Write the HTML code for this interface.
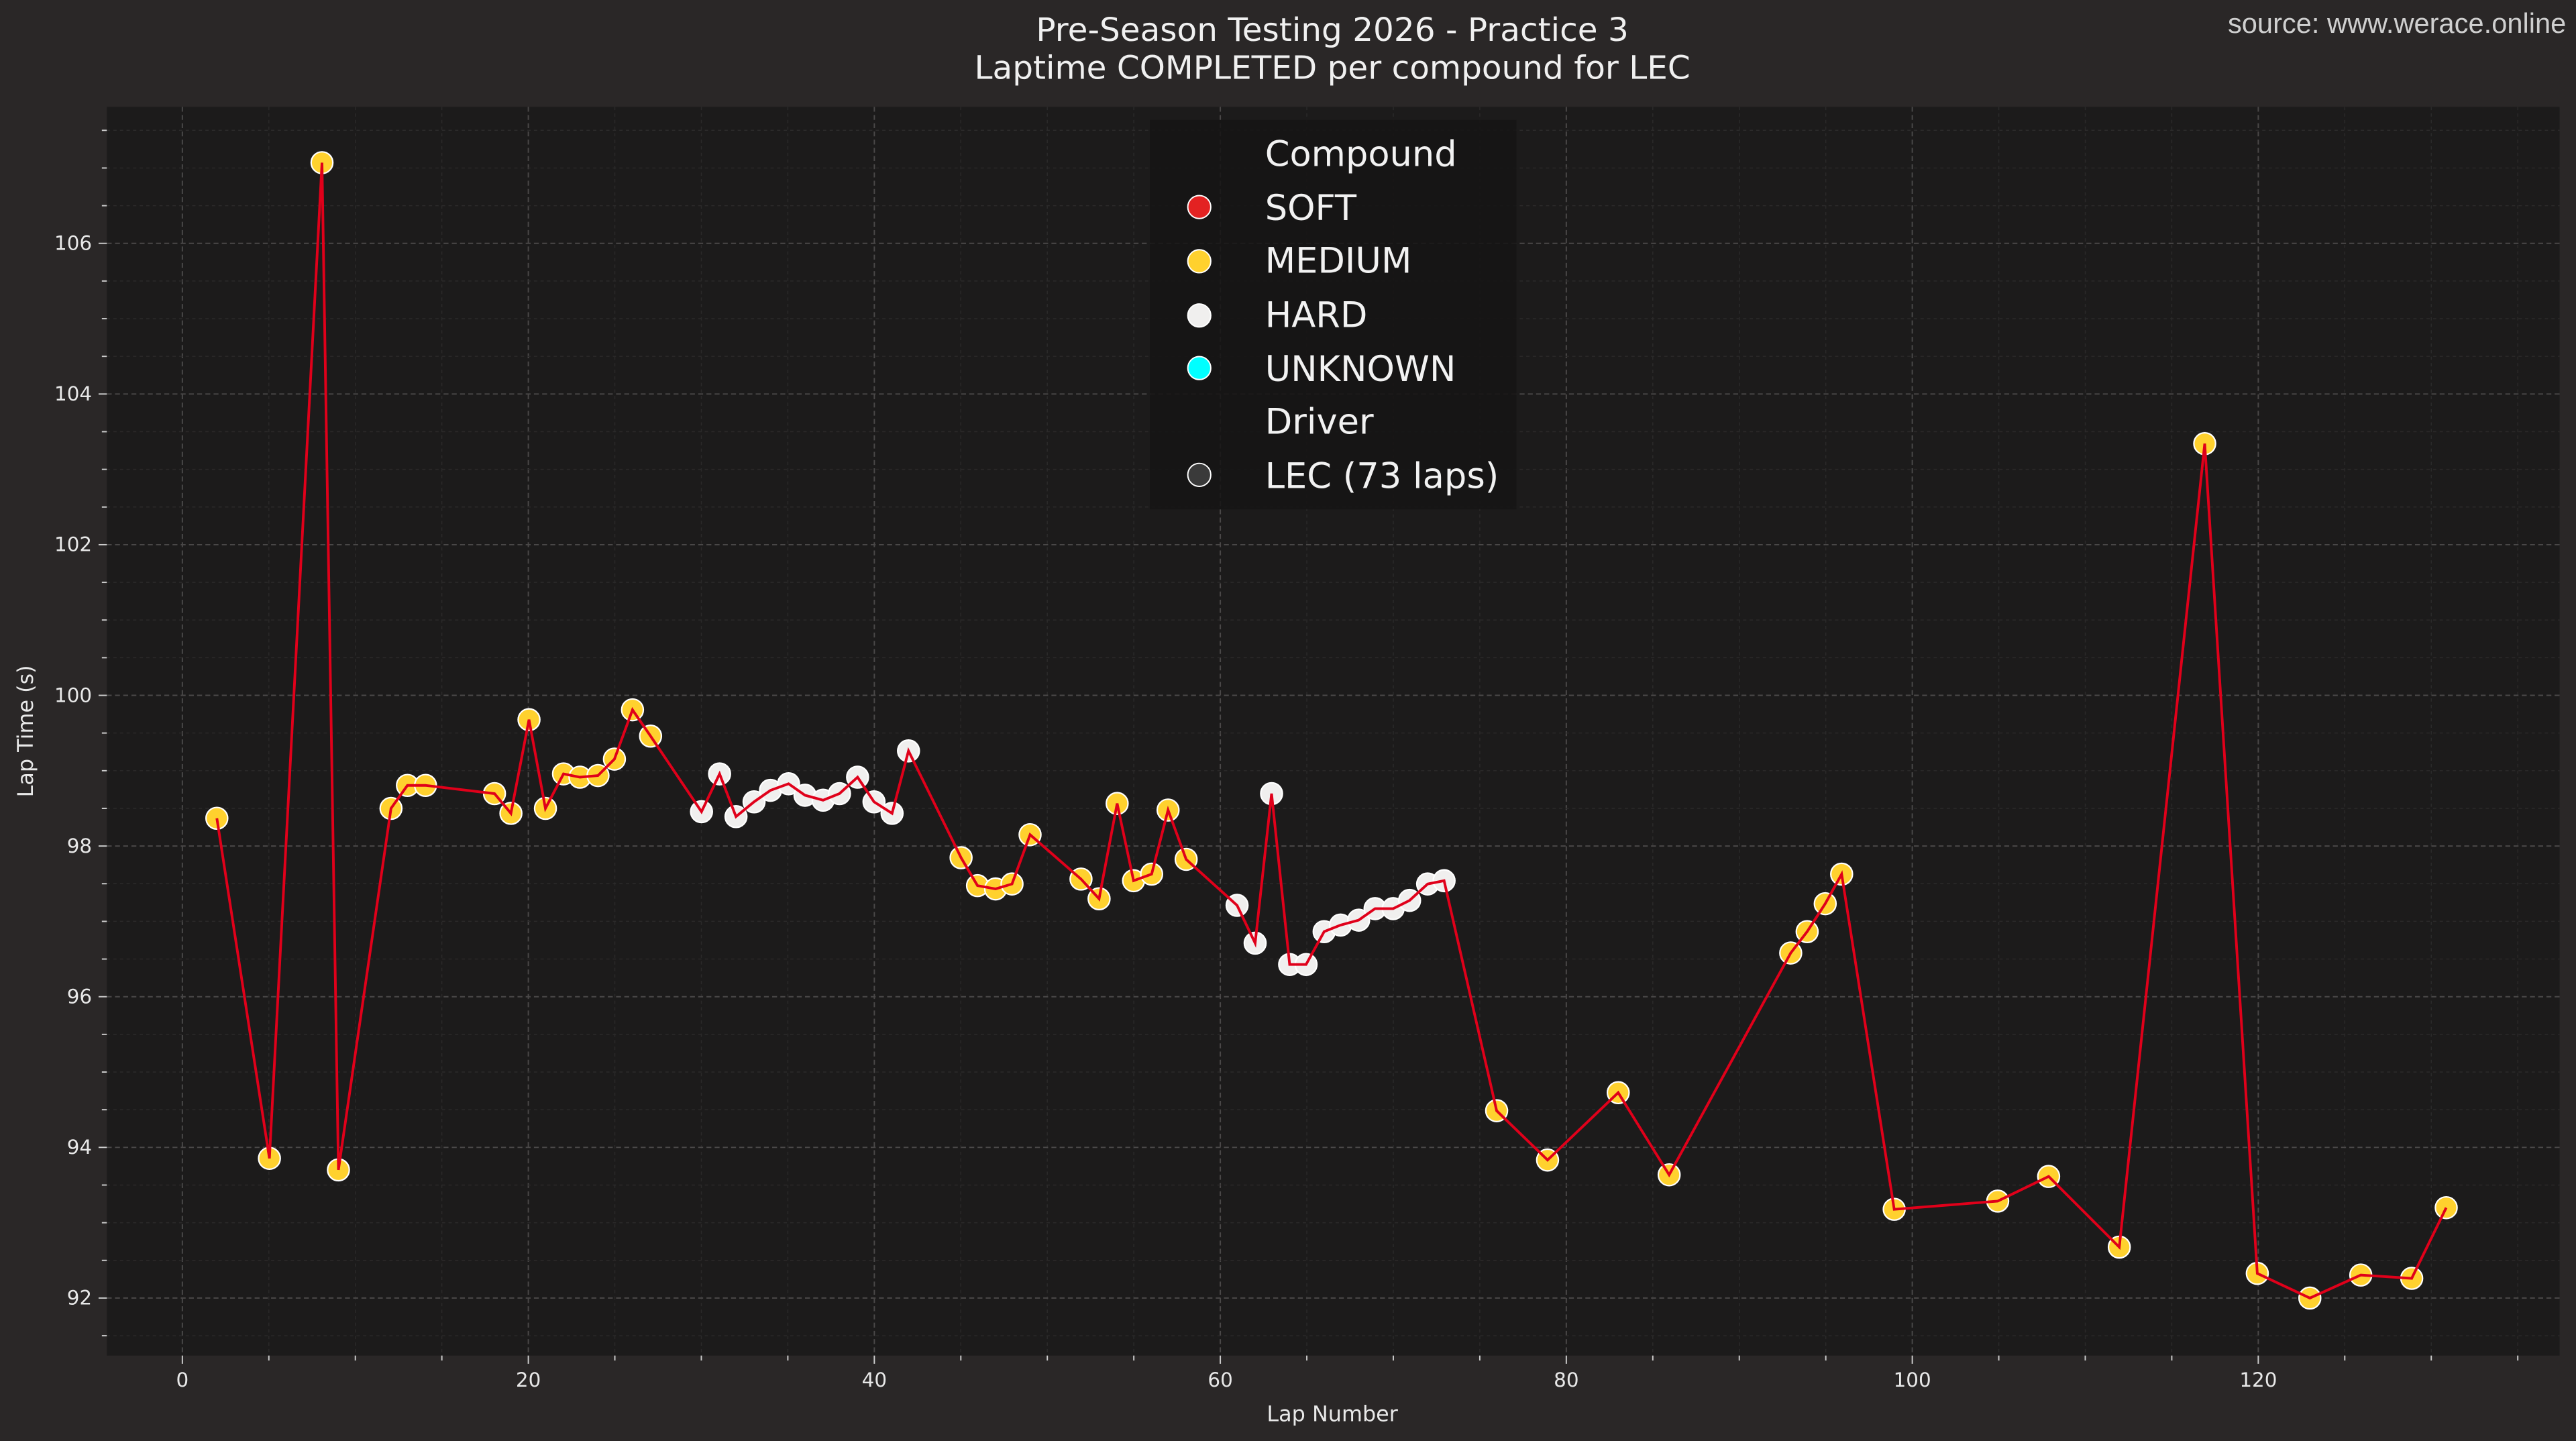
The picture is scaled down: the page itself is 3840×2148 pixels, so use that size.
<!DOCTYPE html>
<html><head><meta charset="utf-8"><style>
html,body{margin:0;padding:0;background:#2a2727;}
svg{display:block;}
text{font-family:"DejaVu Sans","Liberation Sans",sans-serif;}
</style></head><body>
<svg id="s" width="3840" height="2148" viewBox="0 0 1568 877" preserveAspectRatio="none" xmlns="http://www.w3.org/2000/svg">
<rect x="0" y="0" width="1568" height="877" fill="#2a2727"/>
<rect x="65" y="65" width="1493" height="760" fill="#1c1b1b"/>
<g id="grid"></g>
<g id="pts"></g>
<polyline id="line2" fill="none" stroke="#e0001a" stroke-width="1.6"/>
<g id="ticks" fill="#e8e8e8" font-size="12"></g>
<text x="811" y="25" text-anchor="middle" fill="#f0f0f0" font-size="19.8">Pre-Season Testing 2026 - Practice 3</text>
<text x="811" y="48" text-anchor="middle" fill="#f0f0f0" font-size="19.8">Laptime COMPLETED per compound for LEC</text>
<text x="1562" y="20" text-anchor="end" fill="#cfcfcf" font-size="17" style="font-family:'Liberation Sans',sans-serif">source: www.werace.online</text>
<text x="811" y="865" text-anchor="middle" fill="#e8e8e8" font-size="13">Lap Number</text>
<text transform="translate(20,445) rotate(-90)" text-anchor="middle" fill="#e8e8e8" font-size="13">Lap Time (s)</text>
<g>
<rect x="700" y="73" width="223" height="237" fill="#151414" fill-opacity="0.85"/>
<g font-size="21.5" fill="#f2f2f2">
<text x="770" y="101">Compound</text>
<text x="770" y="134">SOFT</text>
<text x="770" y="166">MEDIUM</text>
<text x="770" y="199">HARD</text>
<text x="770" y="232">UNKNOWN</text>
<text x="770" y="264">Driver</text>
<text x="770" y="297">LEC (73 laps)</text>
</g>
<circle cx="730" cy="126" r="7" fill="#e32222" stroke="#fff" stroke-width="0.8"/>
<circle cx="730" cy="159" r="7" fill="#ffd12e" stroke="#fff" stroke-width="0.8"/>
<circle cx="730" cy="192" r="7" fill="#f0efee" stroke="#fff" stroke-width="0.8"/>
<circle cx="730" cy="224" r="7" fill="#00ffff" stroke="#fff" stroke-width="0.8"/>
<circle cx="730" cy="289" r="7" fill="#3a3a3a" stroke="#fff" stroke-width="0.8"/>
</g>
</svg>
<script>
var NS="http://www.w3.org/2000/svg";
function el(t,a,p){var e=document.createElementNS(NS,t);for(var k in a)e.setAttribute(k,a[k]);p.appendChild(e);return e;}
var g=document.getElementById('grid'),tk=document.getElementById('ticks');
function X(l){return 111+10.53*l;} function Y(v){return 790-(v-92)*45.85;}
for(var l=-5;l<=135;l+=5){var x=X(l);if(x<65||x>1558)continue;var major=(l%20===0);
 el('line',{x1:x,y1:65,x2:x,y2:825,stroke:major?'#4a4848':'#2b2a2a','stroke-width':major?0.8:0.6,'stroke-dasharray':major?'3,2':'2,2'},g);
 el('line',{x1:x,y1:825,x2:x,y2:major?830:828,stroke:'#ccc','stroke-width':0.8},tk);
 if(major){var t=el('text',{x:x,y:844,'text-anchor':'middle'},tk);t.textContent=l;}}
for(var v=91.5;v<=107.5;v+=0.5){var y=Y(v);if(y<65||y>825)continue;var major=(Math.abs(v%2)<1e-6);
 el('line',{x1:65,y1:y,x2:1558,y2:y,stroke:major?'#4a4848':'#2b2a2a','stroke-width':major?0.8:0.6,'stroke-dasharray':major?'3,2':'2,2'},g);
 el('line',{x1:major?60:62,y1:y,x2:65,y2:y,stroke:'#ccc','stroke-width':0.8},tk);
 if(major){var t=el('text',{x:56,y:y+4,'text-anchor':'end'},tk);t.textContent=v;}}
var M='M',H='H';
var P=[[132,498,M],[164,705,M],[196,99,M],[206,712,M],[238,492,M],[248,478,M],[259,478,M],[301,483,M],[311,495,M],[322,438,M],[332,492,M],[343,471,M],[353,473,M],[364,472,M],[374,462,M],[385,432,M],[396,448,M],
[427,494,H],[438,471,H],[448,497,H],[459,488,H],[469,481,H],[480,477,H],[490,484,H],[501,487,H],[511,483,H],[522,473,H],[532,488,H],[543,495,H],[553,457,H],
[585,522,M],[595,539,M],[606,541,M],[616,538,M],[627,508,M],[658,535,M],[669,547,M],[680,489,M],[690,536,M],[701,532,M],[711,493,M],[722,523,M],
[753,551,H],[764,574,H],[774,483,H],[785,587,H],[795,587,H],[806,567,H],[816,563,H],[827,560,H],[837,553,H],[848,553,H],[858,548,H],[869,538,H],[879,536,H],
[911,676,M],[942,706,M],[985,665,M],[1016,715,M],[1090,580,M],[1100,567,M],[1111,550,M],[1121,532,M],[1153,736,M],[1216,731,M],[1247,716,M],[1290,759,M],[1342,270,M],[1374,775,M],[1406,790,M],[1437,776,M],[1468,778,M],[1489,735,M]];
var pts=document.getElementById('pts');
P.forEach(function(p){el('circle',{cx:p[0],cy:p[1],r:6.6,fill:p[2]==M?'#ffd12e':'#f0efee',stroke:'#fff','stroke-width':0.9},pts);});
document.getElementById('line2').setAttribute('points',P.map(function(p){return p[0]+','+p[1];}).join(' '));
</script>
</body></html>
